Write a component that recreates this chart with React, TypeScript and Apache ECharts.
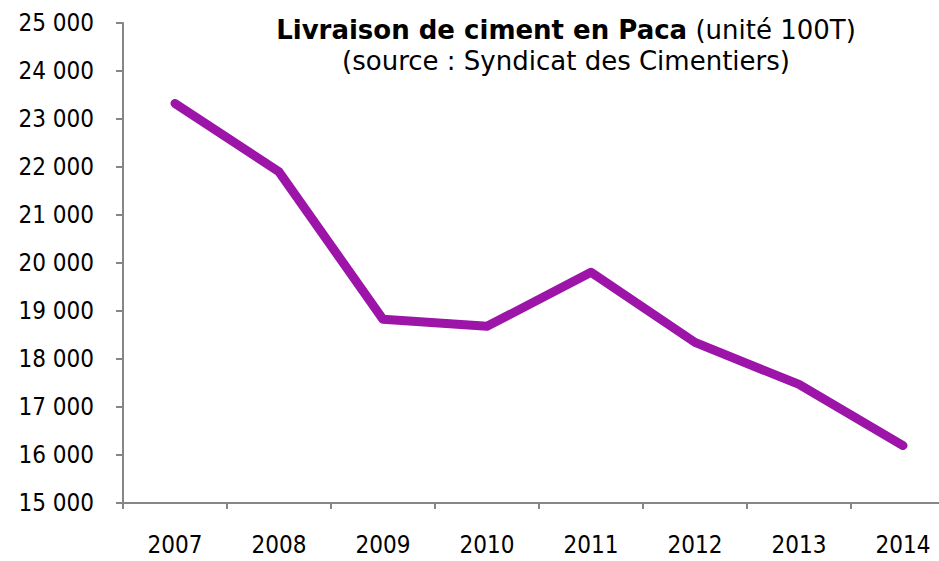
import React, { useEffect, useRef } from "react";
import * as echarts from "echarts";

const years = ["2007", "2008", "2009", "2010", "2011", "2012", "2013", "2014"];
const deliveries = [23325, 21900, 18826, 18680, 19806, 18346, 17470, 16197];
const titleMain = "Livraison de ciment en Paca";
const titleUnit = "(unité 100T)";
const titleSource = "(source : Syndicat des Cimentiers)";

const FONT = "DejaVu Sans Condensed";
const TITLE_FONT = "DejaVu Sans";

export default function App() {
  const ref = useRef<HTMLDivElement>(null);
  useEffect(() => {
    if (!ref.current) return;
    const chart = echarts.init(ref.current, null, { renderer: "svg" });
    chart.setOption({
      animation: false,
      backgroundColor: "#ffffff",
      grid: { left: 123, top: 23, width: 832, height: 480 },
      graphic: [
        {
          type: "text",
          x: 566,
          y: 14,
          style: {
            text: `{b|${titleMain}}{n| ${titleUnit}}\n{n|${titleSource}}`,
            align: "center",
            rich: {
              b: { fontFamily: TITLE_FONT, fontWeight: "bold", fontSize: 26, fill: "#000", lineHeight: 31 },
              n: { fontFamily: TITLE_FONT, fontSize: 26, fill: "#000", lineHeight: 31 },
            },
          },
        },
      ],
      xAxis: {
        type: "category",
        data: years,
        boundaryGap: true,
        axisLine: { lineStyle: { color: "#868686", width: 2 } },
        axisTick: { show: true, length: 6, lineStyle: { color: "#868686", width: 2 } },
        axisLabel: { fontFamily: FONT, fontSize: 24, color: "#000", margin: 30 },
        splitLine: { show: false },
      },
      yAxis: {
        type: "value",
        min: 15000,
        max: 25000,
        interval: 1000,
        axisLine: { show: true, lineStyle: { color: "#868686", width: 2 } },
        axisTick: { show: true, length: 7, lineStyle: { color: "#868686", width: 2 } },
        axisLabel: {
          fontFamily: FONT,
          fontSize: 24,
          color: "#000",
          margin: 29,
          formatter: (v: number) => String(v).replace(/\B(?=(\d{3})+(?!\d))/g, " "),
        },
        splitLine: { show: false },
      },
      series: [
        {
          type: "line",
          data: deliveries,
          symbol: "none",
          lineStyle: { color: "#9C14A8", width: 9, cap: "round", join: "round" },
        },
      ],
    });
    return () => chart.dispose();
  }, []);
  return (
    <div style={{ position: "fixed", left: 0, top: 0, width: 939, height: 561, background: "#fff", overflow: "hidden" }}>
      <div ref={ref} style={{ width: 970, height: 561 }} />
    </div>
  );
}
